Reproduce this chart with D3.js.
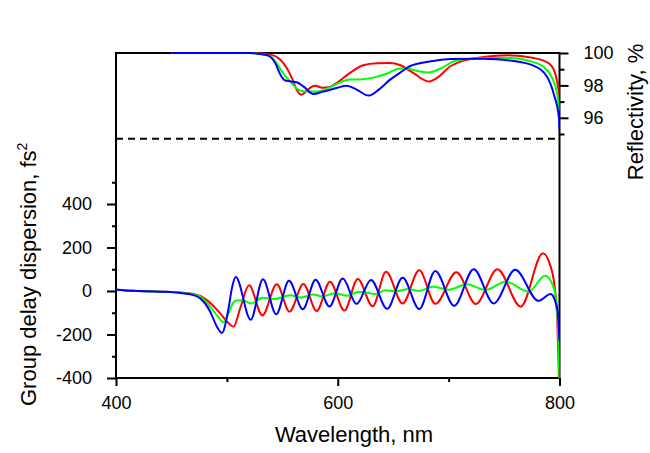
<!DOCTYPE html>
<html><head><meta charset="utf-8">
<script src="https://cdn.jsdelivr.net/npm/d3@7"></script>
<style>body{margin:0;background:#fff} svg{display:block}</style>
</head><body><svg id="c" width="650" height="453"></svg>
<script>
// ---- tick values ----
const wlTicks = [400, 600, 800];
const wlMinor = [500, 700];
const gddTicks = [-400, -200, 0, 200, 400];
const gddMinor = [-300, -100, 100, 300, 500];
const rTicks = [96, 98, 100];
const rMinor = [95, 97, 99];
const dashLevel = 94.7;

// ---- reflectivity (%), [wavelength nm, value] ----
const reflRed = [[450,100],[520,100],[539,99.9],[548,99.6],[554,99.07],[558.6,98.46],[563,97.74],[567,97.42],[571,97.6],[576,97.9],[580,97.98],[586,97.85],[592,97.88],[599,98.15],[611,98.77],[623,99.24],[635,99.37],[647,99.38],[656,99.26],[668,98.77],[682,98.24],[689.5,98.46],[701.6,99.18],[713.6,99.53],[731.7,99.75],[752.8,99.86],[776.8,99.69],[790,99.38],[796,98.77],[799.5,97.6],[800,97.4]];
const reflGreen = [[450,100],[520,100],[539,99.8],[543.6,99.49],[549.6,98.87],[557,98.25],[564.6,97.74],[570.7,97.63],[581,97.63],[593,97.88],[602,98.19],[611,98.36],[620,98.37],[632,98.48],[644,98.72],[656,99.05],[662,99.05],[671.5,98.9],[682,98.8],[692.5,99.03],[704.6,99.49],[716.7,99.63],[734.7,99.69],[755.8,99.69],[773.8,99.49],[786,99.12],[793.4,98.46],[798,97.43],[800,96.4]];
const reflBlue = [[450,100],[520,100],[536,99.87],[543.6,99.38],[548,98.7],[552,98.33],[557,98.25],[563,98.19],[569,97.94],[578,97.47],[587,97.62],[599,97.84],[608,97.98],[617,97.74],[628,97.37],[637,97.74],[647,98.34],[656,98.77],[665,99.18],[686,99.5],[701.6,99.63],[731.7,99.65],[755.8,99.53],[777,99.2],[789,98.5],[795,97.43],[799.5,96],[800,95.27]];

// ---- group delay dispersion (fs^2), [wavelength nm, value] ----
const gddRed = [[400,6],[415,1],[440,-3],[460,-8],[470,-14],[476,-23],[485,-55],[494,-103],[500,-140],[506,-164],[512,-80],[520,26],[532,-112],[545,31],[556.5,-95],[569,32],[581,-92],[593,43],[606,-90],[618,55],[631.5,-70],[643.5,88],[658.5,-57],[673.5,95],[688,-59],[707,86],[724.5,-60],[744,100],[765,-72],[785,173],[792,112],[795.6,20],[798,-133],[799.5,-394],[800,-480]];
const gddGreen = [[400,6],[415,1],[440,-3],[460,-9],[476,-26],[485,-72],[492,-118],[497,-144],[501.5,-103],[506,-52],[509,-44],[514,-42],[522,-58],[532,-31],[543,-37],[557,-20],[567,-30],[578,-16],[586,-25],[597,-10],[609,-22],[619,-3],[634,-14],[643,4],[652,-2],[664,9],[673,0],[686,19],[700,6],[716.7,31],[733,5],[751.5,43],[772,-3],[787,70],[795,12],[798.5,-150],[800,-430]];
const gddBlue = [[400,6],[415,1],[440,-3],[460,-10],[467,-15],[476,-34],[485,-95],[491,-164],[495.5,-193],[501.5,-80],[504.5,12],[508,64],[521.5,-132],[532.5,54],[544.5,-107],[556,47],[568.5,-84],[580,52],[592.5,-71],[604.5,57],[617,-60],[630,51],[644.5,-82],[658.5,61],[673.5,-83],[688,92],[705,-68],[722.6,100],[740.7,-57],[760,98],[781,-45],[792,-14],[796,-45],[798.5,-100],[800,-230]];

const series = [
  {refl: reflRed, gdd: gddRed, color: "#ff0000"},
  {refl: reflGreen, gdd: gddGreen, color: "#00ff00"},
  {refl: reflBlue, gdd: gddBlue, color: "#0000ff"}
];

const FONT = '"Liberation Sans", Arial, sans-serif';
const svg = d3.select("#c");
const x = d3.scaleLinear().domain([400, 800]).range([116, 559.5]);
const yG = d3.scaleLinear().domain([-400, 400]).range([378, 204]);
const yR = d3.scaleLinear().domain([95, 100]).range([134, 53]);

svg.append("clipPath").attr("id", "clip").append("rect")
  .attr("x", x(400)).attr("y", yR(100) - 3).attr("width", x(800) - x(400)).attr("height", yG(-400) - yR(100) + 3);

// axes
function styleAxis(g) {
  g.select(".domain").remove();
  g.selectAll("line").attr("stroke", "#000").attr("stroke-width", 2);
  g.selectAll("text").attr("fill", "#000");
  g.attr("font-family", FONT).attr("font-size", 18);
}
const fmt = d => String(d);
svg.append("g").attr("transform", `translate(${x(400)},0)`)
  .call(d3.axisLeft(yG).tickValues(gddTicks).tickSize(9).tickPadding(15).tickFormat(fmt)).call(styleAxis);
svg.append("g").attr("transform", `translate(${x(400)},0)`)
  .call(d3.axisLeft(yG).tickValues(gddMinor).tickSize(4).tickFormat("")).call(styleAxis);
svg.append("g").attr("transform", `translate(0,${yG(-400)})`)
  .call(d3.axisBottom(x).tickValues(wlTicks).tickSize(8).tickPadding(10).tickFormat(fmt)).call(styleAxis);
svg.append("g").attr("transform", `translate(0,${yG(-400)})`)
  .call(d3.axisBottom(x).tickValues(wlMinor).tickSize(4).tickFormat("")).call(styleAxis);
svg.append("g").attr("transform", `translate(${x(800)},0)`)
  .call(d3.axisRight(yR).tickValues(rTicks).tickSize(9).tickPadding(15).tickFormat(fmt)).call(styleAxis);
svg.append("g").attr("transform", `translate(${x(800)},0)`)
  .call(d3.axisRight(yR).tickValues(rMinor).tickSize(5).tickFormat("")).call(styleAxis);

// frame
svg.append("rect").attr("x", x(400)).attr("y", yR(100)).attr("width", x(800) - x(400)).attr("height", yG(-400) - yR(100))
  .attr("fill", "none").attr("stroke", "#000").attr("stroke-width", 2);

// dashed separator
svg.append("line").attr("x1", x(400)).attr("x2", x(797)).attr("y1", yR(dashLevel)).attr("y2", yR(dashLevel))
  .attr("stroke", "#000").attr("stroke-width", 2).attr("stroke-dasharray", "7,5");

// curves
const plot = svg.append("g").attr("clip-path", "url(#clip)");
const lineR = d3.line().x(d => x(d[0])).y(d => yR(d[1])).curve(d3.curveMonotoneX);
const lineG = d3.line().x(d => x(d[0])).y(d => yG(d[1])).curve(d3.curveMonotoneX);
series.forEach(s => {
  plot.append("path").attr("d", lineR(s.refl)).attr("fill", "none").attr("stroke", s.color).attr("stroke-width", 2);
  plot.append("path").attr("d", lineG(s.gdd)).attr("fill", "none").attr("stroke", s.color).attr("stroke-width", 2);
});

// axis titles
svg.append("text").attr("x", 354).attr("y", 442).attr("text-anchor", "middle")
  .attr("font-family", FONT).attr("font-size", 22).text("Wavelength, nm");
const gl = svg.append("text").attr("transform", "translate(36,406) rotate(-90)").attr("text-anchor", "start")
  .attr("font-family", FONT).attr("font-size", 22);
gl.append("tspan").text("Group delay dispersion, fs");
gl.append("tspan").attr("font-size", 14).attr("dy", -9).text("2");
svg.append("text").attr("transform", "translate(643,112) rotate(-90)").attr("text-anchor", "middle")
  .attr("font-family", FONT).attr("font-size", 22).text("Reflectivity, %");
</script></body></html>
